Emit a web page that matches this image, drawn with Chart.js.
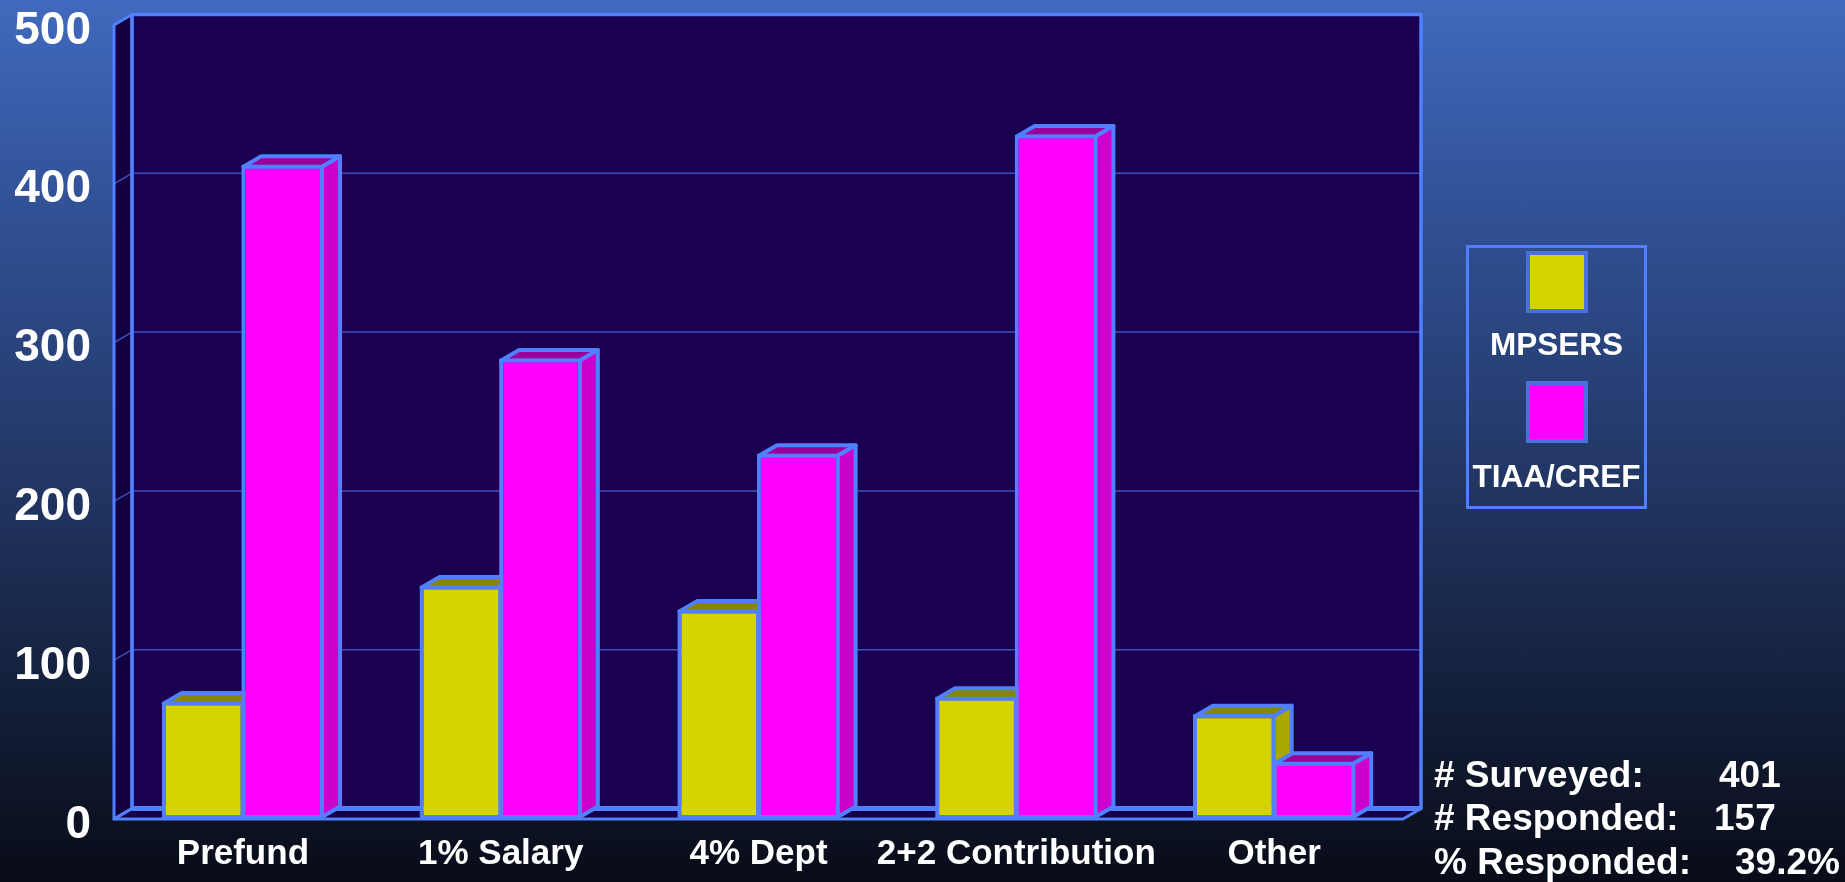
<!DOCTYPE html>
<html>
<head>
<meta charset="utf-8">
<title>Survey responses</title>
<script src="https://cdn.jsdelivr.net/npm/chart.js@4"></script>
<style>
  html, body { margin: 0; padding: 0; }
  body {
    width: 1845px; height: 882px; overflow: hidden; position: relative;
    background: linear-gradient(to bottom, #4169BD 0%, #2F4D8F 28%, #20335E 58%, #131E38 80%, #090C18 100%);
    font-family: "Liberation Sans", Arial, sans-serif; font-weight: bold; color: #fff;
  }
  canvas { position: absolute; left: 0; top: 0; }
  #legend {
    position: absolute; left: 1466px; top: 245px; width: 175px; height: 258px;
    border: 3px solid #5080FF;
  }
  #legend .swatch { position: absolute; left: 57px; width: 54px; height: 54px; border: 4px solid #4A70E0; }
  #legend .name { position: absolute; left: -11px; width: 197px; text-align: center; font-size: 31.5px; line-height: 36px; }
  .stat { position: absolute; font-size: 37px; line-height: 40px; white-space: nowrap; }
</style>
</head>
<body>
<canvas id="chart" width="1845" height="882"></canvas>
<div id="legend"></div>
<div id="stats"></div>
<script>
/* ---------- data ---------- */
const categories = ["Prefund", "1% Salary", "4% Dept", "2+2 Contribution", "Other"];
const seriesNames = ["MPSERS", "TIAA/CREF"];
const mpsers = [74, 147, 132, 77, 66];
const tiaaCref = [412, 290, 230, 431, 36];
const yTicks = [0, 100, 200, 300, 400, 500];
const statLabels = ["# Surveyed:", "# Responded:", "% Responded:"];
const statValues = ["401", "157", "39.2%"];

/* ---------- look ---------- */
const lineColor = "#5080FF";
const gridColor = "#3A50B8";
const faces = [
  { front: "#D4D400", top: "#868600", side: "#A8A800" },
  { front: "#FF00FF", top: "#990099", side: "#CC00CC" },
];
const depthX = 18;
const depthY = 10.5;
const barLine = 4;

function poly(ctx, pts, fill, stroke, lw) {
  ctx.beginPath();
  pts.forEach((p, i) => (i ? ctx.lineTo(p[0], p[1]) : ctx.moveTo(p[0], p[1])));
  ctx.closePath();
  if (fill) { ctx.fillStyle = fill; ctx.fill(); }
  if (stroke) { ctx.strokeStyle = stroke; ctx.lineWidth = lw; ctx.lineJoin = "round"; ctx.stroke(); }
}

// the 3d box behind the bars, then top and side faces of each bar
const depthPlugin = {
  id: "depth",
  beforeDatasetsDraw(chart) {
    const ctx = chart.ctx;
    const { left, right, top, bottom } = chart.chartArea;
    const y = chart.scales.y;
    const back = [[left + depthX, top - depthY], [right + depthX, top - depthY], [right + depthX, bottom - depthY], [left + depthX, bottom - depthY]];
    const wall = [[left, top], [left + depthX, top - depthY], [left + depthX, bottom - depthY], [left, bottom]];
    const floor = [[left, bottom], [left + depthX, bottom - depthY], [right + depthX, bottom - depthY], [right, bottom]];
    ctx.save();
    poly(ctx, back, "#1A0050");
    poly(ctx, wall, "#130040");
    poly(ctx, floor, "#14004A");

    ctx.strokeStyle = gridColor;
    ctx.lineWidth = 1.5;
    yTicks.slice(1, -1).forEach((v) => {
      const py = y.getPixelForValue(v);
      ctx.beginPath();
      ctx.moveTo(left, py);
      ctx.lineTo(left + depthX, py - depthY);
      ctx.lineTo(right + depthX, py - depthY);
      ctx.stroke();
    });

    poly(ctx, wall, null, lineColor, 3);
    poly(ctx, floor, null, lineColor, 3);
    poly(ctx, back, null, lineColor, 3.5);
    // floor's back edge is heavier than the rest
    ctx.strokeStyle = lineColor;
    ctx.lineWidth = 5;
    ctx.beginPath();
    ctx.moveTo(left + depthX, bottom - depthY);
    ctx.lineTo(right + depthX, bottom - depthY);
    ctx.stroke();

    faces.forEach((f, i) => {
      chart.getDatasetMeta(i).data.forEach((bar) => {
        const l = bar.x - bar.width / 2 + barLine / 2;
        const r = bar.x + bar.width / 2 - barLine / 2;
        const t = bar.y + barLine / 2;
        const b = bar.base - barLine / 2;
        poly(ctx, [[l, t], [l + depthX, t - depthY], [r + depthX, t - depthY], [r, t]], f.top, lineColor, barLine);
        poly(ctx, [[r, t], [r + depthX, t - depthY], [r + depthX, b - depthY], [r, b]], f.side, lineColor, barLine);
      });
    });
    ctx.restore();
  },
};

new Chart(document.getElementById("chart"), {
  type: "bar",
  plugins: [depthPlugin],
  data: {
    labels: categories,
    datasets: [
      { label: seriesNames[0], data: mpsers, backgroundColor: faces[0].front },
      { label: seriesNames[1], data: tiaaCref, backgroundColor: faces[1].front },
    ],
  },
  options: {
    responsive: false,
    animation: false,
    layout: { padding: { top: 25, right: 442, left: 0, bottom: 0 } },
    datasets: {
      bar: {
        categoryPercentage: 0.617,
        barPercentage: 1.04, // neighbours share one border
        borderColor: lineColor,
        borderWidth: barLine,
        borderSkipped: false,
        clip: false,
      },
    },
    plugins: { legend: { display: false }, tooltip: { enabled: false } },
    scales: {
      x: {
        afterFit: (s) => { s.height = 63; },
        grid: { display: false, drawTicks: false },
        border: { display: false },
        ticks: { color: "#FFFFFF", padding: 14, maxRotation: 0, autoSkip: false, font: { family: "'Liberation Sans', Arial, sans-serif", size: 35, weight: "bold" } },
      },
      y: {
        min: 0,
        max: 500,
        afterFit: (s) => { s.width = 114; s.paddingTop = 0; s.paddingBottom = 0; },
        afterBuildTicks: (s) => { s.ticks = yTicks.map((v) => ({ value: v })); },
        grid: { display: false, drawTicks: false },
        border: { display: false },
        ticks: { color: "#FFFFFF", padding: 23, labelOffset: 6, font: { family: "'Liberation Sans', Arial, sans-serif", size: 46, weight: "bold" } },
      },
    },
  },
});

/* ---------- legend and survey note ---------- */
const legendEl = document.getElementById("legend");
seriesNames.forEach((name, i) => {
  const sw = document.createElement("div");
  sw.className = "swatch";
  sw.style.top = 3 + i * 130 + "px";
  sw.style.background = faces[i].front;
  legendEl.appendChild(sw);
  const lb = document.createElement("div");
  lb.className = "name";
  lb.style.top = 78 + i * 132 + "px";
  lb.textContent = name;
  legendEl.appendChild(lb);
});

const statsEl = document.getElementById("stats");
const statTops = [755, 798, 842];
const statValueLefts = [1719, 1714, 1735];
statLabels.forEach((label, i) => {
  const a = document.createElement("div");
  a.className = "stat";
  a.style.left = "1434px";
  a.style.top = statTops[i] + "px";
  a.textContent = label;
  statsEl.appendChild(a);
  const b = document.createElement("div");
  b.className = "stat";
  b.style.left = statValueLefts[i] + "px";
  b.style.top = statTops[i] + "px";
  b.textContent = statValues[i];
  statsEl.appendChild(b);
});
</script>
</body>
</html>
